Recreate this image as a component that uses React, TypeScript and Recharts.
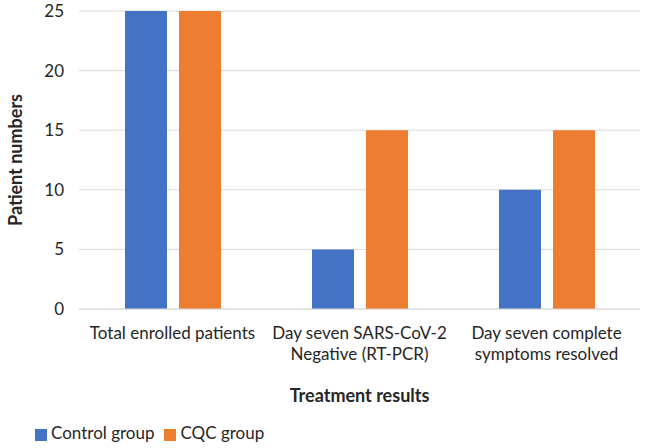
import React from "react";
import { BarChart, Bar, XAxis, YAxis, CartesianGrid, Legend, Label } from "recharts";

const categories = [
  "Total enrolled patients",
  "Day seven SARS-CoV-2 Negative (RT-PCR)",
  "Day seven complete symptoms resolved",
];
const categoryLines: string[][] = [
  ["Total enrolled patients"],
  ["Day seven SARS-CoV-2", "Negative (RT-PCR)"],
  ["Day seven complete", "symptoms resolved"],
];
const controlValues = [25, 5, 10];
const cqcValues = [25, 15, 15];
const yTicks = [0, 5, 10, 15, 20, 25];

const data = categories.map((c, i) => ({
  name: c,
  control: controlValues[i],
  cqc: cqcValues[i],
}));

const FONT = "Lato, 'Open Sans', sans-serif";
const TEXT = "#262626";

const XTick = (props: any) => {
  const { x, y, payload } = props;
  const idx = categories.indexOf(payload.value);
  const lines = idx >= 0 ? categoryLines[idx] : [payload.value];
  return (
    <g transform={`translate(${x},${y})`}>
      {lines.map((l, i) => (
        <text
          key={i}
          x={0}
          y={i * 21 + 22}
          textAnchor="middle"
          fill={TEXT}
          fontSize={17}
          fontFamily={FONT}
        >
          {l}
        </text>
      ))}
    </g>
  );
};

export default function App() {
  return (
    <div style={{ position: "absolute", left: 0, top: 0, width: 646, height: 448, background: "#fff" }}>
      <BarChart
        width={646}
        height={448}
        data={data}
        margin={{ top: 11, right: 6, bottom: 5, left: 0 }}
        barSize={42}
        barGap={12}
      >
        <CartesianGrid vertical={false} stroke="#d9d9d9" />
        <XAxis
          dataKey="name"
          tick={<XTick />}
          tickLine={false}
          axisLine={{ stroke: "#d9d9d9" }}
          interval={0}
          height={113}
        >
          <Label
            value="Treatment results"
            position="insideBottom"
            offset={20}
            style={{ fontFamily: FONT, fontWeight: 700, fontSize: 18, fill: TEXT }}
          />
        </XAxis>
        <YAxis
          width={79}
          domain={[0, 25]}
          ticks={yTicks}
          tickLine={false}
          axisLine={false}
          tick={{ fontFamily: FONT, fontSize: 17, fill: TEXT }}
          tickMargin={9}
        >
          <Label
            value="Patient numbers"
            angle={-90}
            position="insideLeft"
            offset={16}
            style={{ textAnchor: "middle", fontFamily: FONT, fontWeight: 700, fontSize: 18, fill: TEXT }}
          />
        </YAxis>
        <Legend
          verticalAlign="bottom"
          align="left"
          iconType="square"
          iconSize={12}
          itemSorter="dataKey"
          wrapperStyle={{ paddingLeft: 35, fontFamily: FONT, fontSize: 17 }}
          formatter={(v: string) => <span style={{ color: TEXT }}>{v}</span>}
        />
        <Bar dataKey="control" name="Control group" fill="#4472C4" isAnimationActive={false} />
        <Bar dataKey="cqc" name="CQC group" fill="#ED7D31" isAnimationActive={false} />
      </BarChart>
    </div>
  );
}
